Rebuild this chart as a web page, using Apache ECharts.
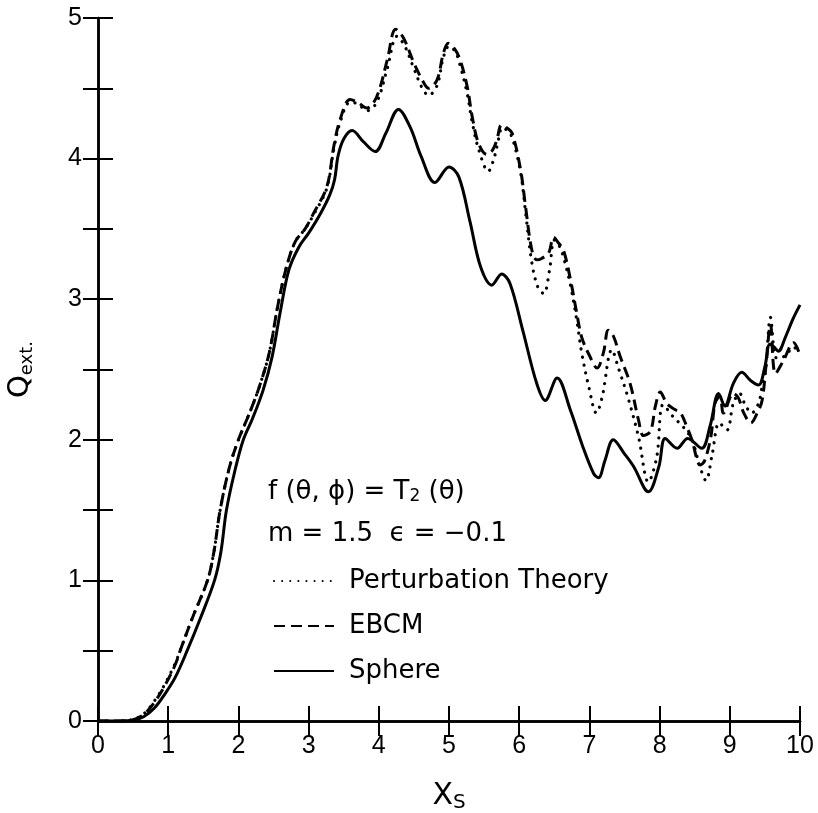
<!DOCTYPE html>
<html>
<head>
<meta charset="utf-8">
<script src="https://cdn.jsdelivr.net/npm/echarts@6/dist/echarts.min.js"></script>
<style>html,body{margin:0;padding:0;background:#fff}#c{width:818px;height:813px}</style>
</head>
<body>
<div id="c"></div>
<script>
// ---- data ----
const sphereX = [0,0.3,0.5,0.65,0.8,0.95,1.1,1.27,1.45,1.66,1.75,1.83,1.95,2.07,2.2,2.35,2.48,2.6,2.72,2.86,3.0,3.17,3.3,3.37,3.42,3.5,3.62,3.78,3.95,4.1,4.28,4.45,4.6,4.8,5.0,5.14,5.3,5.45,5.61,5.75,5.87,6.05,6.25,6.37,6.54,6.73,6.9,7.06,7.13,7.22,7.34,7.5,7.63,7.84,7.99,8.08,8.25,8.4,8.6,8.72,8.84,8.93,9.05,9.17,9.3,9.41,9.5,9.57,9.63,9.69,9.8,9.9,10];
const sphereY = [0,0,0.005,0.03,0.09,0.19,0.31,0.5,0.72,1.0,1.2,1.5,1.78,2.0,2.15,2.35,2.59,2.92,3.21,3.37,3.47,3.61,3.74,3.85,4.02,4.14,4.2,4.12,4.05,4.18,4.35,4.22,4.02,3.83,3.94,3.87,3.55,3.23,3.1,3.18,3.11,2.78,2.4,2.28,2.44,2.21,1.96,1.76,1.73,1.85,2.0,1.9,1.81,1.63,1.81,2.01,1.94,2.01,1.94,2.1,2.33,2.24,2.4,2.48,2.42,2.39,2.52,2.68,2.66,2.63,2.74,2.86,2.96];

const ebcmX = [0,0.3,0.5,0.65,0.8,0.95,1.1,1.17,1.35,1.56,1.65,1.74,1.87,2.0,2.15,2.3,2.44,2.56,2.68,2.81,2.95,3.07,3.26,3.36,3.45,3.59,3.7,3.83,3.97,4.12,4.24,4.35,4.5,4.64,4.71,4.83,4.92,4.99,5.08,5.16,5.26,5.33,5.42,5.54,5.62,5.68,5.75,5.82,5.9,6.02,6.09,6.18,6.25,6.32,6.42,6.49,6.56,6.63,6.73,6.82,6.89,6.99,7.11,7.2,7.27,7.34,7.44,7.58,7.7,7.77,7.87,7.94,8.01,8.1,8.2,8.3,8.39,8.46,8.58,8.64,8.73,8.79,8.86,8.91,9.05,9.12,9.2,9.3,9.39,9.46,9.51,9.58,9.65,9.76,9.91,10];
const ebcmY = [0,0,0.01,0.045,0.13,0.25,0.4,0.5,0.74,1.0,1.2,1.5,1.8,2.0,2.18,2.38,2.62,2.95,3.22,3.41,3.5,3.61,3.8,4.09,4.28,4.42,4.4,4.36,4.44,4.7,4.92,4.86,4.68,4.54,4.5,4.56,4.75,4.82,4.78,4.7,4.51,4.3,4.11,4.03,4.06,4.13,4.24,4.22,4.18,3.92,3.66,3.35,3.28,3.29,3.33,3.44,3.4,3.35,3.14,2.9,2.73,2.61,2.51,2.62,2.78,2.74,2.59,2.4,2.14,2.03,2.06,2.24,2.34,2.26,2.22,2.19,2.09,2.0,1.82,1.85,2.02,2.26,2.31,2.19,2.33,2.3,2.19,2.12,2.19,2.28,2.5,2.82,2.47,2.56,2.69,2.6];

const ptX = [0,0.3,0.5,0.65,0.8,0.95,1.1,1.17,1.35,1.56,1.65,1.74,1.87,2.0,2.15,2.3,2.44,2.56,2.68,2.81,2.95,3.07,3.26,3.36,3.45,3.59,3.7,3.83,3.97,4.12,4.26,4.37,4.5,4.62,4.71,4.83,4.92,5.0,5.09,5.16,5.26,5.33,5.42,5.56,5.64,5.69,5.76,5.83,5.9,6.02,6.09,6.18,6.27,6.35,6.43,6.5,6.57,6.63,6.73,6.82,6.89,6.99,7.1,7.18,7.32,7.42,7.55,7.7,7.84,7.96,8.05,8.2,8.34,8.46,8.58,8.66,8.75,8.85,8.96,9.05,9.14,9.21,9.31,9.41,9.46,9.51,9.58,9.67,9.8,9.9,10];
const ptY = [0,0,0.012,0.05,0.14,0.26,0.41,0.5,0.74,1.0,1.2,1.5,1.8,2.0,2.18,2.38,2.62,2.95,3.22,3.41,3.5,3.6,3.79,4.07,4.26,4.4,4.39,4.34,4.4,4.64,4.87,4.8,4.64,4.5,4.45,4.52,4.72,4.8,4.76,4.66,4.46,4.26,4.07,3.91,4.0,4.1,4.22,4.2,4.15,3.9,3.62,3.26,3.08,3.04,3.2,3.42,3.38,3.3,3.1,2.85,2.62,2.38,2.19,2.3,2.64,2.5,2.3,2.02,1.7,1.88,2.25,2.16,2.09,2.0,1.8,1.71,1.9,2.12,2.07,2.26,2.33,2.26,2.19,2.26,2.38,2.5,2.87,2.58,2.6,2.66,2.62];

const xTicks = [0,1,2,3,4,5,6,7,8,9,10];
const yTickLabels = ['0','1','2','3','4','5'];
const seriesNames = ['Perturbation Theory','EBCM','Sphere'];
const paramLine1 = 'f (θ, ϕ) = T';
const paramLine2 = 'm = 1.5  ϵ = −0.1';

function pairs(xs, ys){ return xs.map((x,i)=>[x, ys[i]]); }

const FONT = '"Liberation Sans", Arial, sans-serif';
const TFONT = '"DejaVu Sans", sans-serif';
const chart = echarts.init(document.getElementById('c'), null, {renderer:'canvas'});

const axisLine = {show:true, lineStyle:{color:'#000', width:2.5}};
const tick = {show:true, inside:true, length:15, lineStyle:{color:'#000', width:2}};

const option = {
  backgroundColor:'#fff',
  animation:false,
  grid:{left:98, right:18, top:18, bottom:92, containLabel:false, outerBoundsMode:'none'},
  legend:{
    orient:'vertical', left:268, top:563,
    itemWidth:60, itemHeight:14, itemGap:19,
    data:seriesNames,
    itemStyle:{opacity:0},
    textStyle:{fontFamily:TFONT, fontSize:26, color:'#000', padding:[0,0,0,10]},
    inactiveColor:'#000'
  },
  xAxis:[
    {type:'value', min:0, max:10, interval:1, position:'bottom',
     axisLine:axisLine, axisTick:tick, splitLine:{show:false},
     axisLabel:{fontFamily:FONT, fontSize:25, color:'#000', margin:13,
       formatter:v=> xTicks.includes(v) ? String(v) : ''},
     name:'{x|X}{s|S}', nameLocation:'middle', nameGap:58,
     nameTextStyle:{rich:{x:{fontFamily:TFONT, fontSize:30, color:'#000'}, s:{fontFamily:TFONT, fontSize:20, color:'#000', padding:[14,0,0,0]}}}},
    {type:'value', min:0, max:10, interval:1, position:'top',
     axisLine:axisLine, axisTick:tick, axisLabel:{show:false}, splitLine:{show:false}}
  ],
  yAxis:[
    {type:'value', min:0, max:5, interval:0.5, position:'left',
     axisLine:axisLine, axisTick:tick, splitLine:{show:false},
     axisLabel:{fontFamily:FONT, fontSize:25, color:'#000', margin:16,
       formatter:v=> Number.isInteger(v) ? yTickLabels[v] : ''},
     name:'{q|Q}{s|ext.}', nameLocation:'middle', nameGap:62, nameRotate:90,
     nameTextStyle:{rich:{q:{fontFamily:TFONT, fontSize:29, color:'#000'}, s:{fontFamily:TFONT, fontSize:18, color:'#000', padding:[14,0,0,0]}}}},
    {type:'value', min:0, max:5, interval:0.5, position:'right',
     axisLine:axisLine, axisTick:tick, axisLabel:{show:false}, splitLine:{show:false}}
  ],
  series:[
    {name:seriesNames[0], type:'line', data:pairs(ptX, ptY), smooth:0.35, symbol:'none',
     lineStyle:{color:'#000', width:3.2, type:[0.1,8], cap:'round'}, itemStyle:{color:'#000'}},
    {name:seriesNames[1], type:'line', data:pairs(ebcmX, ebcmY), smooth:0.35, symbol:'none',
     lineStyle:{color:'#000', width:3, type:[11,6]}, itemStyle:{color:'#000'}},
    {name:seriesNames[2], type:'line', data:pairs(sphereX, sphereY), smooth:0.35, symbol:'none',
     lineStyle:{color:'#000', width:3}, itemStyle:{color:'#000'}}
  ],
  graphic:[
    {type:'text', left:268, top:479, style:{
      text:'{a|'+paramLine1+'}{b|2}{a| (θ)}',
      rich:{a:{fontFamily:TFONT, fontSize:26, fill:'#000'}, b:{fontFamily:TFONT, fontSize:17, fill:'#000', padding:[10,0,0,0]}}}},
    {type:'text', left:268, top:521, style:{text:paramLine2, fontFamily:TFONT, fontSize:26, fill:'#000'}}
  ]
};
chart.setOption(option);
</script>
</body>
</html>
